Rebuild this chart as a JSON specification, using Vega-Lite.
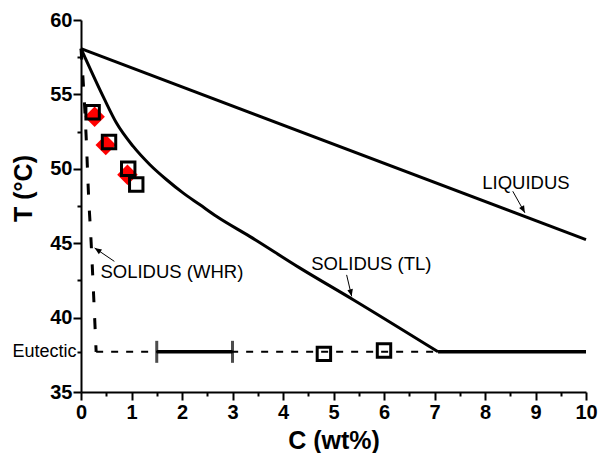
{
  "$schema": "https://vega.github.io/schema/vega-lite/v6.json",
  "autosize": "none",
  "width": 505,
  "height": 372,
  "padding": {"left": 81, "top": 20, "right": 15, "bottom": 61},
  "config": {
    "font": "Liberation Sans",
    "view": {"stroke": null},
    "axis": {"grid": false, "domainColor": "black", "domainWidth": 2, "tickColor": "black", "tickWidth": 2, "labelColor": "black", "titleColor": "black"}
  },
  "datasets": {
    "curves": [
      {"series": "liquidus", "C": 0, "T": 58.07},
      {"series": "liquidus", "C": 10, "T": 45.24},
      {"series": "solidusTL", "C": 0, "T": 58.07},
      {"series": "solidusTL", "C": 0.466, "T": 54.66},
      {"series": "solidusTL", "C": 0.7, "T": 53.09},
      {"series": "solidusTL", "C": 1.03, "T": 51.52},
      {"series": "solidusTL", "C": 1.36, "T": 50.29},
      {"series": "solidusTL", "C": 1.69, "T": 49.28},
      {"series": "solidusTL", "C": 2.02, "T": 48.38},
      {"series": "solidusTL", "C": 2.35, "T": 47.6},
      {"series": "solidusTL", "C": 2.68, "T": 46.81},
      {"series": "solidusTL", "C": 3.34, "T": 45.46},
      {"series": "solidusTL", "C": 4.33, "T": 43.34},
      {"series": "solidusTL", "C": 5.39, "T": 41.2},
      {"series": "solidusTL", "C": 7.07, "T": 37.7},
      {"series": "solidusWHR", "C": 0, "T": 58.07},
      {"series": "solidusWHR", "C": 0.05, "T": 55.5},
      {"series": "solidusWHR", "C": 0.1, "T": 52.3},
      {"series": "solidusWHR", "C": 0.15, "T": 48.2},
      {"series": "solidusWHR", "C": 0.2, "T": 45.1},
      {"series": "solidusWHR", "C": 0.25, "T": 41.5},
      {"series": "solidusWHR", "C": 0.3, "T": 37.7},
      {"series": "eutecticDash", "C": 0.3, "T": 37.7},
      {"series": "eutecticDash", "C": 7.07, "T": 37.7},
      {"series": "eutecticSolid", "C": 7.07, "T": 37.7},
      {"series": "eutecticSolid", "C": 10, "T": 37.7}
    ],
    "range": [{"C": 1.5, "C2": 3.0, "T": 37.7}],
    "squares": [
      {"C": 0.23, "T": 53.8},
      {"C": 0.555, "T": 51.8},
      {"C": 0.935, "T": 50.0},
      {"C": 1.094, "T": 48.94},
      {"C": 4.81, "T": 37.56},
      {"C": 6.0, "T": 37.79}
    ],
    "diamonds": [
      {"C": 0.27, "T": 53.49},
      {"C": 0.49, "T": 51.6},
      {"C": 0.92, "T": 49.6}
    ],
    "labels": [
      {"name": "LIQUIDUS", "C": 8.81, "T": 49.06, "C0": 8.55, "T0": 48.49, "C1": 8.79, "T1": 47.04},
      {"name": "SOLIDUS (TL)", "C": 5.75, "T": 43.61, "C0": 5.26, "T0": 42.87, "C1": 5.36, "T1": 41.43},
      {"name": "SOLIDUS (WHR)", "C": 1.8, "T": 43.06, "C0": 0.66, "T0": 43.78, "C1": 0.27, "T1": 44.68}
    ]
  },
  "encoding": {
    "x": {"field": "C", "type": "quantitative", "scale": {"domain": [0, 10], "nice": false},
      "axis": {"title": "C (wt%)", "titleFontSize": 25, "titleFontWeight": "bold", "titlePadding": 6,
        "values": [0,0.5,1,1.5,2,2.5,3,3.5,4,4.5,5,5.5,6,6.5,7,7.5,8,8.5,9,9.5,10],
        "labelExpr": "datum.value % 1 == 0 ? format(datum.value, 'd') : ''",
        "labelFontSize": 20, "labelFontWeight": "bold", "labelPadding": 2, "labelFlush": false,
        "tickSize": {"condition": {"test": "datum.value % 1 != 0", "value": 4}, "value": 8}}},
    "y": {"field": "T", "type": "quantitative", "scale": {"domain": [35, 60], "nice": false, "zero": false},
      "axis": {"title": "T (°C)", "titleFontSize": 25, "titleFontWeight": "bold",
        "titleX": -58, "titleY": 168, "titleBaseline": "middle", "titleAngle": -90,
        "values": [35,37.7,40,42.5,45,47.5,50,52.5,55,57.5,60],
        "labelExpr": "datum.value == 37.7 ? 'Eutectic' : (datum.value % 5 == 0 ? datum.label : '')",
        "labelFontSize": {"condition": {"test": "datum.value == 37.7", "value": 18}, "value": 20},
        "labelFontWeight": {"condition": {"test": "datum.value == 37.7", "value": "normal"}, "value": "bold"},
        "labelPadding": 1, "labelFlush": false,
        "tickSize": {"condition": {"test": "datum.value % 5 != 0", "value": 4}, "value": 8}}}
  },
  "layer": [
    {"data": {"name": "curves"}, "transform": [{"filter": "datum.series == 'liquidus'"}],
      "mark": {"type": "line", "color": "black", "strokeWidth": 3}},
    {"data": {"name": "curves"}, "transform": [{"filter": "datum.series == 'solidusTL'"}],
      "mark": {"type": "line", "color": "black", "strokeWidth": 3, "interpolate": "monotone"}},
    {"data": {"name": "curves"}, "transform": [{"filter": "datum.series == 'solidusWHR'"}],
      "mark": {"type": "line", "color": "black", "strokeWidth": 3, "strokeDash": [11, 16], "interpolate": "monotone"}},
    {"data": {"name": "curves"}, "transform": [{"filter": "datum.series == 'eutecticDash'"}],
      "mark": {"type": "line", "color": "black", "strokeWidth": 2, "strokeDash": [7, 8]}},
    {"data": {"name": "curves"}, "transform": [{"filter": "datum.series == 'eutecticSolid'"}],
      "mark": {"type": "line", "color": "black", "strokeWidth": 3.5}},
    {"data": {"name": "range"}, "mark": {"type": "rule", "color": "black", "strokeWidth": 3.5},
      "encoding": {"x2": {"field": "C2"}}},
    {"data": {"name": "range"}, "mark": {"type": "tick", "orient": "vertical", "color": "black", "size": 22, "thickness": 3}},
    {"data": {"name": "range"}, "mark": {"type": "tick", "orient": "vertical", "color": "black", "size": 22, "thickness": 3},
      "encoding": {"x": {"field": "C2", "type": "quantitative"}}},
    {"data": {"name": "diamonds"}, "mark": {"type": "point", "shape": "diamond", "filled": true, "color": "#ff0000", "size": 420, "opacity": 1}},
    {"data": {"name": "squares"}, "mark": {"type": "point", "shape": "square", "filled": false, "color": "black", "size": 180, "strokeWidth": 3, "opacity": 1}},
    {"data": {"name": "labels"}, "mark": {"type": "text", "fontSize": 18.5, "align": "center", "baseline": "middle", "color": "black"},
      "encoding": {"text": {"field": "name"}}},
    {"data": {"name": "labels"}, "mark": {"type": "rule", "color": "black", "strokeWidth": 1},
      "encoding": {"x": {"field": "C0", "type": "quantitative"}, "y": {"field": "T0", "type": "quantitative"}, "x2": {"field": "C1"}, "y2": {"field": "T1"}}},
    {"data": {"name": "labels"}, "transform": [{"filter": "datum.name == 'LIQUIDUS'"}],
      "mark": {"type": "point", "shape": "M0,0L-0.4,1L0.4,1Z", "filled": true, "color": "black", "size": 196, "angle": 152, "opacity": 1},
      "encoding": {"x": {"field": "C1", "type": "quantitative"}, "y": {"field": "T1", "type": "quantitative"}}},
    {"data": {"name": "labels"}, "transform": [{"filter": "datum.name == 'SOLIDUS (TL)'"}],
      "mark": {"type": "point", "shape": "M0,0L-0.4,1L0.4,1Z", "filled": true, "color": "black", "size": 196, "angle": 167, "opacity": 1},
      "encoding": {"x": {"field": "C1", "type": "quantitative"}, "y": {"field": "T1", "type": "quantitative"}}},
    {"data": {"name": "labels"}, "transform": [{"filter": "datum.name == 'SOLIDUS (WHR)'"}],
      "mark": {"type": "point", "shape": "M0,0L-0.4,1L0.4,1Z", "filled": true, "color": "black", "size": 196, "angle": 304, "opacity": 1},
      "encoding": {"x": {"field": "C1", "type": "quantitative"}, "y": {"field": "T1", "type": "quantitative"}}}
  ]
}
